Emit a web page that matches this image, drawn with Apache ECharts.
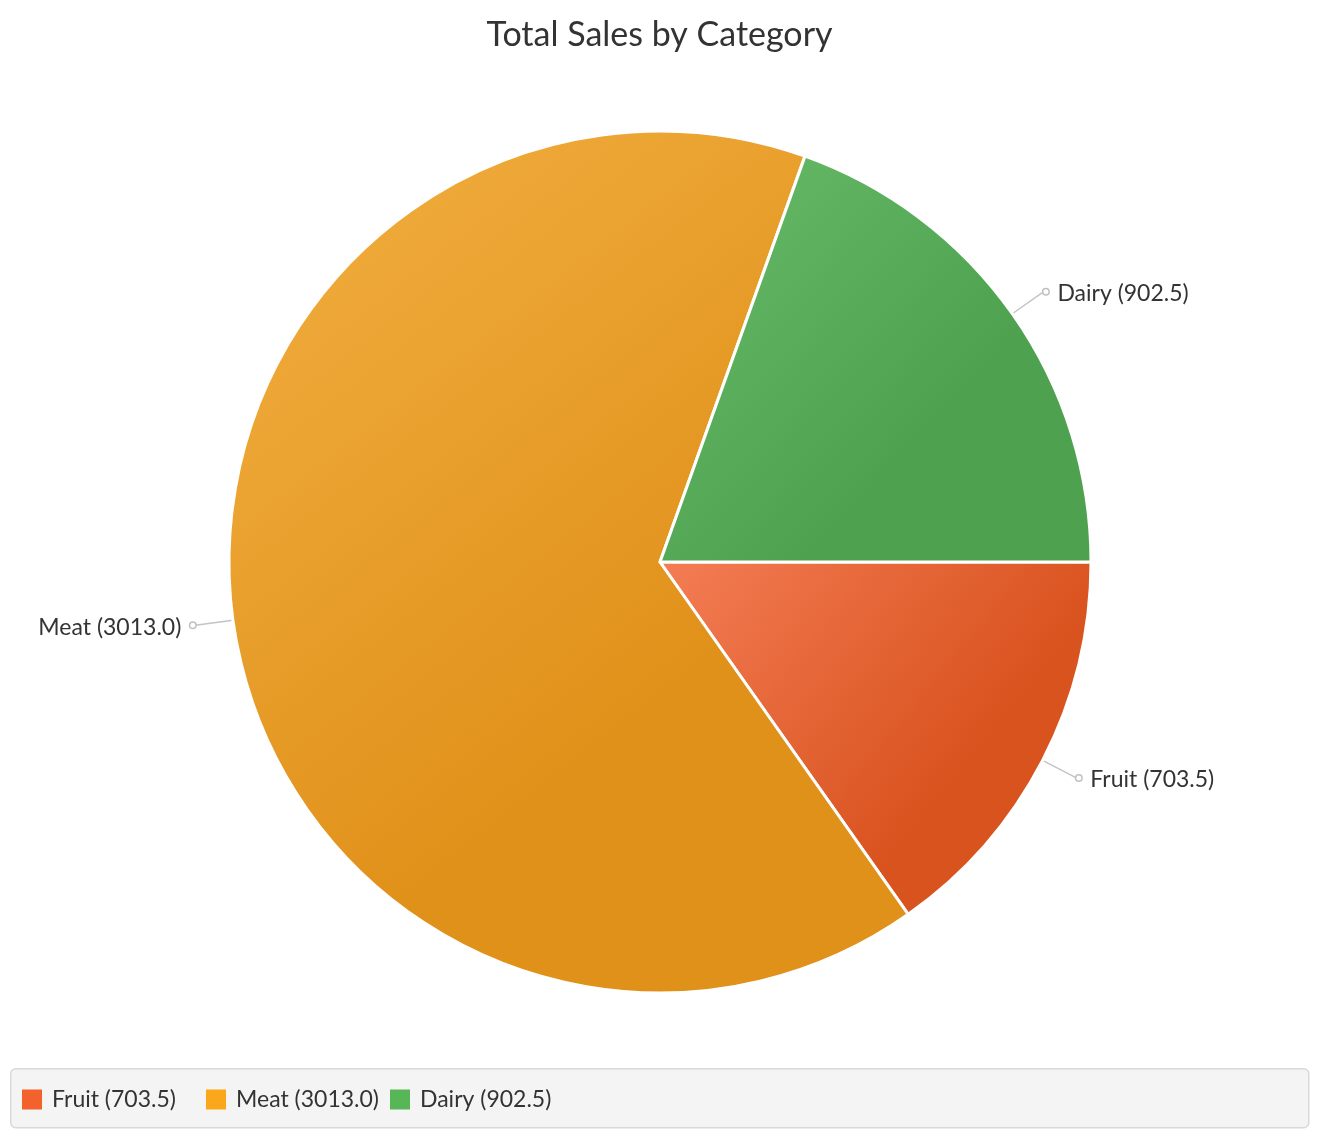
<!DOCTYPE html>
<html>
<head>
<meta charset="utf-8">
<script src="https://cdn.jsdelivr.net/npm/echarts@6/dist/echarts.min.js"></script>
<style>
html,body{margin:0;padding:0;background:#fff;}
#chart{width:1319px;height:1138px;}
</style>
</head>
<body>
<div id="chart"></div>
<script>
const titleText = 'Total Sales by Category';
const categories = ['Fruit', 'Meat', 'Dairy'];
const values = [703.5, 3013.0, 902.5];
const baseColors = ['#f3622d', '#fba71b', '#57b757'];
const lightColors = ['#f47d55', '#f3b042', '#69bd6a'];
const darkColors = ['#d9531f', '#e0911a', '#4ea24f'];

const FONT = 'Lato';
const names = categories.map((c, i) => c + ' (' + values[i].toFixed(1) + ')');
const LEGEND_LEFT = 17, LEGEND_TILE = 184;

const chart = echarts.init(document.getElementById('chart'));
chart.setOption({
  backgroundColor: '#ffffff',
  animation: false,
  title: {
    text: titleText,
    left: 'center',
    top: 13,
    textStyle: {fontFamily: FONT, fontSize: 34, fontWeight: 'normal', color: '#333333'}
  },
  graphic: [{
    type: 'rect', left: 10, top: 1068, z: -1,
    shape: {width: 1298, height: 59, r: 5},
    style: {fill: '#f4f4f4', stroke: '#d9d9d9', lineWidth: 1.5}
  }],
  legend: names.map((n, i) => ({
    left: LEGEND_LEFT + i * LEGEND_TILE, top: 1083,
    itemWidth: 20, itemHeight: 20,
    icon: 'rect',
    data: [{name: n, itemStyle: {color: baseColors[i], borderWidth: 0}}],
    textStyle: {fontFamily: FONT, fontSize: 23, color: '#333333', padding: [0, 0, 0, 5]}
  })),
  series: [{
    type: 'pie',
    center: [660, 562],
    radius: 431,
    startAngle: 0,
    clockwise: true,
    avoidLabelOverlap: false,
    itemStyle: {borderColor: '#ffffff', borderWidth: 3},
    labelLine: {show: true, length: 38, length2: 0, smooth: false, lineStyle: {color: '#c4c4c4', width: 1.5}},
    label: {
      show: true,
      alignTo: 'none',
      distanceToLabelLine: 0,
      fontFamily: FONT, fontSize: 23, color: '#333333',
      rich: {
        t: {fontFamily: FONT, fontSize: 23, color: '#333333', padding: [4, 0, 0, 0]},
        c: {width: 5, height: 5, borderRadius: 4, borderColor: '#c0c0c0', borderWidth: 1.5, backgroundColor: '#ffffff'},
        g: {width: 9}
      }
    },
    data: categories.map((c, i) => ({
      name: names[i],
      value: values[i],
      itemStyle: {
        color: new echarts.graphic.LinearGradient(0, 0, 1, 1, [
          {offset: 0, color: lightColors[i]},
          {offset: 0.65, color: darkColors[i]},
          {offset: 1, color: darkColors[i]}
        ])
      },
      label: {
        formatter: (i === 1) ? '{t|' + names[i] + '}{g|}{c|}' : '{c|}{g|}{t|' + names[i] + '}'
      }
    }))
  }]
});
</script>
</body>
</html>
